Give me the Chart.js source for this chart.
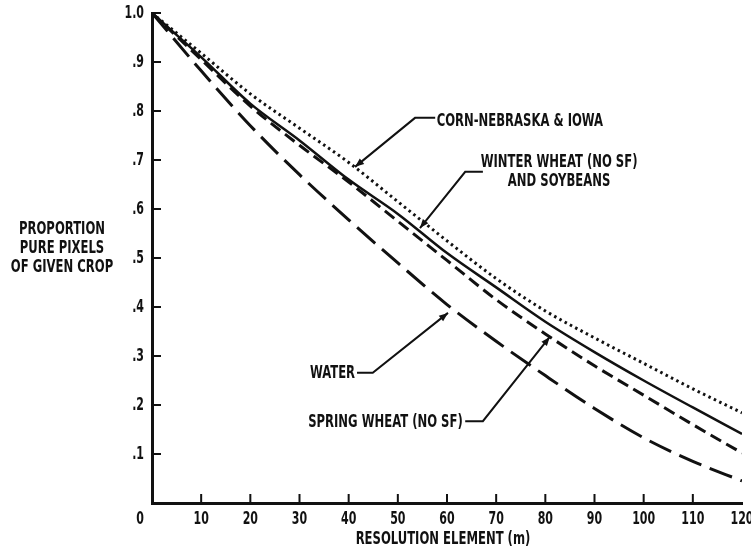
<!DOCTYPE html>
<html>
<head>
<meta charset="utf-8">
<title>Proportion pure pixels of given crop</title>
<script src="https://cdn.jsdelivr.net/npm/chart.js@4.4.1/dist/chart.umd.min.js"></script>
<style>
   html, body { margin: 0; padding: 0; background: #fff; }
   #wrap { width: 751px; height: 551px; }
</style>
</head>
<body>
<div id="wrap"><canvas id="pixelChart"></canvas></div>
<script>
// #region Data
// resolution element (m)
const resolution = [0, 10, 20, 30, 40, 50, 60, 70, 80, 90, 100, 110, 120];

// proportion of pure pixels
const cornNebraskaIowa = [1.0, 0.918, 0.835, 0.765, 0.695, 0.615, 0.535, 0.458, 0.392, 0.337, 0.285, 0.233, 0.184];
const winterWheatSoy   = [1.0, 0.910, 0.815, 0.740, 0.660, 0.590, 0.510, 0.440, 0.370, 0.308, 0.250, 0.195, 0.141];
const springWheat      = [1.0, 0.905, 0.810, 0.730, 0.655, 0.575, 0.495, 0.415, 0.345, 0.280, 0.220, 0.160, 0.102];
const water            = [1.0, 0.882, 0.770, 0.670, 0.578, 0.490, 0.405, 0.330, 0.260, 0.193, 0.133, 0.085, 0.045];

const xTickLabels = ['0', '10', '20', '30', '40', '50', '60', '70', '80', '90', '100', '110', '120'];
const yTickLabels = ['', '.1', '.2', '.3', '.4', '.5', '.6', '.7', '.8', '.9', '1.0'];
const yTitleLines = ['PROPORTION', 'PURE PIXELS', 'OF GIVEN CROP'];
const xTitle = 'RESOLUTION ELEMENT (m)';
// #endregion

const ink = '#111';
const fontFamily = "'DejaVu Sans Condensed', 'DejaVu Sans', sans-serif";
const squeeze = 0.76;      // the typewriter lettering is narrower than any installed face
const tickSqueeze = 0.68;

// callouts, in data units (m, proportion)
const callouts = [
   { lines: ['CORN-NEBRASKA & IOWA'], tip: [41.3, 0.686], elbow: [53.5, 0.786], end: [57.6, 0.786],
     textAt: [57.9, 0.779], align: 'left' },
   { lines: ['WINTER WHEAT (NO SF)', 'AND SOYBEANS'], tip: [54.5, 0.561], elbow: [63.7, 0.676], end: [67.3, 0.676],
     textAt: [82.8, 0.695], align: 'center' },
   { lines: ['WATER'], tip: [60.2, 0.388], elbow: [44.9, 0.266], end: [41.7, 0.266],
     textAt: [41.3, 0.264], align: 'right' },
   { lines: ['SPRING WHEAT (NO SF)'], tip: [80.9, 0.339], elbow: [67.3, 0.167], end: [63.7, 0.167],
     textAt: [63.2, 0.164], align: 'right' }
];

function toPoints(values) {
   return resolution.map((r, i) => ({ x: r, y: values[i] }));
}

// ***********************
// Name:    narrowText
// Purpose: draws a string squeezed horizontally
// *************************
function narrowText(ctx, text, x, y, align, k) {
   ctx.save();
   ctx.translate(x, y);
   ctx.scale(k, 1);
   ctx.textAlign = align;
   ctx.fillText(text, 0, 0);
   ctx.restore();
}

// ***********************
// Name:    axisDecor
// Purpose: draws inward tick marks, tick labels and axis titles from the chart scales
// *************************
const axisDecor = {
   id: 'axisDecor',
   afterDatasetsDraw(chart) {
      const { ctx, chartArea, scales: { x, y } } = chart;
      ctx.save();
      ctx.strokeStyle = ink;
      ctx.fillStyle = ink;
      ctx.lineWidth = 2;
      ctx.beginPath();
      y.ticks.forEach(t => {
         if (t.value === 0) return;
         const py = y.getPixelForValue(t.value);
         ctx.moveTo(chartArea.left, py);
         ctx.lineTo(chartArea.left + 9, py);
      });
      x.ticks.forEach(t => {
         if (t.value === 0 || t.value === 120) return;
         const px = x.getPixelForValue(t.value);
         ctx.moveTo(px, chartArea.bottom);
         ctx.lineTo(px, chartArea.bottom - 9);
      });
      ctx.stroke();

      ctx.font = `bold 18px ${fontFamily}`;
      ctx.textBaseline = 'middle';
      y.ticks.forEach(t => {
         const label = yTickLabels[Math.round(t.value * 10)];
         if (label) narrowText(ctx, label, chartArea.left - 8, y.getPixelForValue(t.value), 'right', tickSqueeze);
      });
      x.ticks.forEach(t => {
         const label = xTickLabels[resolution.indexOf(t.value)];
         const shift = t.value === 0 ? -12 : 0;   // origin label sits left of the corner
         if (label) narrowText(ctx, label, x.getPixelForValue(t.value) + shift, chartArea.bottom + 16, 'center', tickSqueeze);
      });

      ctx.font = `bold 17px ${fontFamily}`;
      narrowText(ctx, xTitle, (chartArea.left + chartArea.right) / 2 - 4, chartArea.bottom + 37, 'center', squeeze);

      const midY = y.getPixelForValue(0.52);
      yTitleLines.forEach((line, i) => {
         narrowText(ctx, line, chartArea.left - 90, midY + (i - 1) * 19, 'center', squeeze);
      });
      ctx.restore();
   }
};

// ***********************
// Name:    calloutLabels
// Purpose: draws the curve labels with their leader lines
// *************************
const calloutLabels = {
   id: 'calloutLabels',
   afterDatasetsDraw(chart) {
      const { ctx, scales: { x, y } } = chart;
      const px = v => x.getPixelForValue(v);
      const py = v => y.getPixelForValue(v);
      ctx.save();
      ctx.fillStyle = ink;
      ctx.strokeStyle = ink;
      ctx.font = `bold 17px ${fontFamily}`;
      ctx.textBaseline = 'middle';

      callouts.forEach(c => {
         const tx = px(c.tip[0]), ty = py(c.tip[1]);
         const ex = px(c.elbow[0]), ey = py(c.elbow[1]);
         ctx.lineWidth = 2;
         ctx.beginPath();
         ctx.moveTo(px(c.end[0]), py(c.end[1]));
         ctx.lineTo(ex, ey);
         ctx.lineTo(tx, ty);
         ctx.stroke();

         // arrow head
         const ang = Math.atan2(ty - ey, tx - ex);
         ctx.beginPath();
         ctx.moveTo(tx, ty);
         ctx.lineTo(tx - 9 * Math.cos(ang) + 3.5 * Math.sin(ang), ty - 9 * Math.sin(ang) - 3.5 * Math.cos(ang));
         ctx.lineTo(tx - 9 * Math.cos(ang) - 3.5 * Math.sin(ang), ty - 9 * Math.sin(ang) + 3.5 * Math.cos(ang));
         ctx.closePath();
         ctx.fill();

         c.lines.forEach((line, i) => {
            narrowText(ctx, line, px(c.textAt[0]), py(c.textAt[1]) + i * 19, c.align, squeeze);
         });
      });
      ctx.restore();
   }
};

const lineStyle = {
   borderColor: ink,
   pointRadius: 0,
   fill: false,
   cubicInterpolationMode: 'monotone',
   borderCapStyle: 'butt'
};

const config = {
   type: 'line',
   data: {
      datasets: [
         { ...lineStyle, label: 'Corn-Nebraska & Iowa', data: toPoints(cornNebraskaIowa), borderWidth: 3, borderDash: [2.5, 3.5] },
         { ...lineStyle, label: 'Winter wheat (no SF) and soybeans', data: toPoints(winterWheatSoy), borderWidth: 2.5 },
         { ...lineStyle, label: 'Spring wheat (no SF)', data: toPoints(springWheat), borderWidth: 3, borderDash: [12, 6] },
         { ...lineStyle, label: 'Water', data: toPoints(water), borderWidth: 3, borderDash: [24, 9] }
      ]
   },
   options: {
      responsive: true,
      maintainAspectRatio: false,
      animation: false,
      devicePixelRatio: 1,
      layout: { padding: { top: 13, right: 9, bottom: 0, left: 0 } },
      plugins: {
         legend: { display: false },
         tooltip: { enabled: false }
      },
      scales: {
         x: {
            type: 'linear',
            min: 0,
            max: 120,
            grid: { display: false },
            border: { display: true, color: ink, width: 3 },
            ticks: { stepSize: 10, autoSkip: false, display: false },
            afterFit: (s) => { s.height = 48; }
         },
         y: {
            min: 0,
            max: 1,
            grid: { display: false },
            border: { display: true, color: ink, width: 3 },
            ticks: { stepSize: 0.1, display: false },
            afterFit: (s) => { s.width = 152; }
         }
      }
   },
   plugins: [axisDecor, calloutLabels]
};

const pixelChart = new Chart(document.getElementById('pixelChart'), config);
</script>
</body>
</html>
